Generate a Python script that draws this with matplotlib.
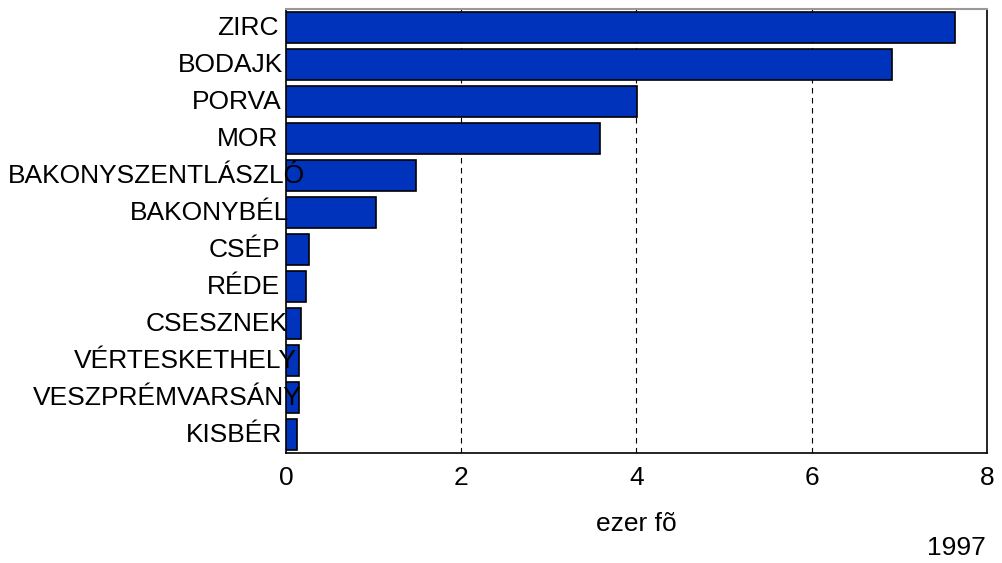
import matplotlib
matplotlib.use("Agg")
import matplotlib.pyplot as plt
from matplotlib.transforms import ScaledTranslation
import numpy as np

plt.rcParams["font.family"] = ["Liberation Sans", "DejaVu Sans"]

places = ["ZIRC", "BODAJK", "PORVA", "MOR", "BAKONYSZENTLÁSZLÓ", "BAKONYBÉL",
          "CSÉP", "RÉDE", "CSESZNEK", "VÉRTESKETHELY", "VESZPRÉMVARSÁNY", "KISBÉR"]
values = [7.64, 6.92, 4.01, 3.58, 1.48, 1.03, 0.26, 0.23, 0.17, 0.15, 0.15, 0.13]
x_ticks = [0, 2, 4, 6, 8]

fig = plt.figure(figsize=(10.02, 5.63), dpi=100)
ax = fig.add_axes([0.2854, 0.195, 0.6996, 0.789])

y = np.arange(len(places))
ax.barh(y, values, height=0.84, color="#0033bb", edgecolor="black", linewidth=1.2, zorder=3)
ax.set_ylim(len(places) - 0.5, -0.5)
ax.set_xlim(0, 8)
ax.set_xticks(x_ticks)
ax.set_xticklabels([str(t) for t in x_ticks], fontsize=19)
ax.set_yticks(y)
ax.set_yticklabels([])
ax.tick_params(axis="both", length=0)
ax.tick_params(axis="x", pad=9)
for t in x_ticks[1:-1]:
    ax.axvline(t, color="black", linestyle=(0, (5, 4)), linewidth=0.8, zorder=1)
ax.set_xlabel("ezer fõ", fontsize=19, labelpad=16)
for side in ["left", "bottom", "right"]:
    ax.spines[side].set_color("black")
    ax.spines[side].set_linewidth(1.2)
ax.spines["top"].set_color("#999999")
ax.spines["top"].set_linewidth(1.5)

# category labels: long names spill a little into the plot, like the original
fig.canvas.draw()
renderer = fig.canvas.get_renderer()
for yi, name in zip(y, places):
    txt = ax.text(0, yi, name, transform=ax.get_yaxis_transform(), ha="right",
                  va="center", fontsize=19, zorder=5)
    w = txt.get_window_extent(renderer).width
    shift = (0.11 * w - 14) / 100
    txt.set_transform(ax.get_yaxis_transform() + ScaledTranslation(shift, 0, fig.dpi_scale_trans))

fig.text(0.984, 0.0266, "1997", fontsize=19, ha="right", va="center")

fig.savefig("out.png", dpi=100)
